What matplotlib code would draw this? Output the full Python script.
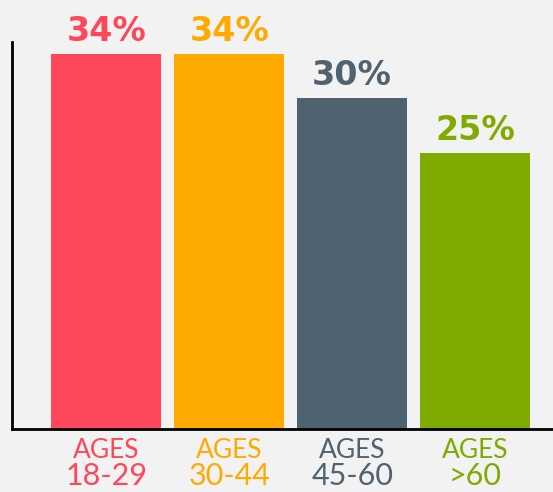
import matplotlib
matplotlib.use("Agg")
import matplotlib.pyplot as plt

age_word = ["AGES", "AGES", "AGES", "AGES"]
age_ranges = ["18-29", "30-44", "45-60", ">60"]
values = [34, 34, 30, 25]
value_labels = ["34%", "34%", "30%", "25%"]
colors = ["#ff475c", "#ffaa00", "#4f626f", "#7faa00"]

bg = "#f2f2f2"
fig = plt.figure(figsize=(5.53, 4.92), dpi=100, facecolor=bg)
ax = fig.add_axes([12/553, 63/492, 1 - 12/553, (429-42)/492])
ax.set_facecolor(bg)

x = list(range(len(values)))
ax.bar(x, values, width=0.895, color=colors, zorder=2)
ax.set_xlim(-0.768, 3.634)
ax.set_ylim(0, 35.1)

for xi, v, lab, c in zip(x, values, value_labels, colors):
    ax.annotate(lab, (xi, v), xytext=(0, 13), textcoords="offset pixels",
                ha="center", va="baseline", color=c, fontsize=24,
                fontfamily="DejaVu Sans", fontweight="bold")

for xi, w, r, c in zip(x, age_word, age_ranges, colors):
    ax.annotate(w, (xi, 0), xycoords=("data", "axes fraction"),
                xytext=(0, -29), textcoords="offset pixels",
                ha="center", va="baseline", color=c, fontsize=19,
                fontfamily="Lato", fontweight="normal", annotation_clip=False)
    ax.annotate(r, (xi, 0), xycoords=("data", "axes fraction"),
                xytext=(0, -56), textcoords="offset pixels",
                ha="center", va="baseline", color=c, fontsize=22,
                fontfamily="Lato", fontweight="normal", annotation_clip=False)

ax.set_xticks([])
ax.set_yticks([])
for s in ["top", "right"]:
    ax.spines[s].set_visible(False)
ax.spines["left"].set_linewidth(2)
ax.spines["bottom"].set_linewidth(2)
ax.spines["left"].set_color("black")
ax.spines["bottom"].set_color("black")

fig.savefig("out.png", dpi=100, facecolor=bg)
